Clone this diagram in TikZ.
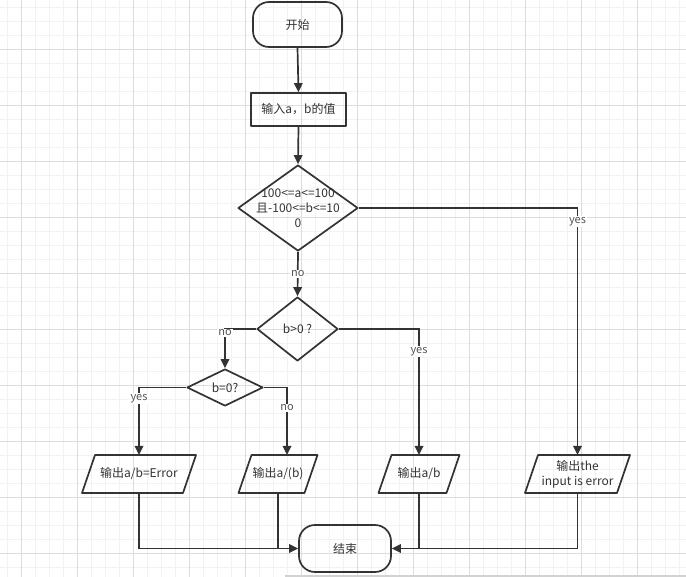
\documentclass[tikz,border=0pt]{standalone}
\usepackage{fontspec}
\setmainfont{Noto Sans CJK SC}
\usetikzlibrary{arrows.meta,shapes.geometric}
\definecolor{ink}{HTML}{333333}
\definecolor{txt}{HTML}{333333}
\definecolor{lbltxt}{HTML}{555555}
\definecolor{gridminor}{HTML}{F2F2F2}
\definecolor{gridmajor}{HTML}{DDDDDD}
\newcommand\drawpara[1]{\draw[shapeline] ([xshift=6.5pt]#1.north west) -- ([xshift=6.5pt]#1.north east) -- ([xshift=-6.5pt]#1.south east) -- ([xshift=-6.5pt]#1.south west) -- cycle;}
\begin{document}
\begin{tikzpicture}[x=1pt,y=-1pt,
  shapeline/.style={draw=ink,line width=1.7pt,line join=round},
  txtfont/.style={font=\fontsize{12}{15}\selectfont,text=txt},
  terminal/.style={shapeline,rectangle,rounded corners=16pt,inner sep=0pt,txtfont},
  procbox/.style={shapeline,rectangle,inner sep=0pt,txtfont},
  decision/.style={shapeline,diamond,inner sep=0pt},
  iobox/.style={rectangle,inner sep=0pt,outer sep=0pt,txtfont,align=center},
  conn/.style={draw=ink,line width=1.7pt},
  arrow/.style={conn,-{Triangle[length=9pt,width=8.5pt]}},
  lbl/.style={fill=white,inner sep=1pt,font=\fontsize{11}{13}\selectfont,text=lbltxt}
]
\useasboundingbox (0,0) rectangle (686,577);
\fill[white] (0,0) rectangle (686,577);
% grid
\foreach \g in {7,21,...,686} {\draw[gridminor,line width=0.6pt] (\g,0) -- (\g,577);}
\foreach \g in {7,21,...,577} {\draw[gridminor,line width=0.6pt] (0,\g) -- (686,\g);}
\foreach \g in {21,77,...,686} {\draw[gridmajor,line width=0.7pt] (\g,0) -- (\g,577);}
\foreach \g in {49,105,...,577} {\draw[gridmajor,line width=0.7pt] (0,\g) -- (686,\g);}
\fill[gray!35] (285,574.5) rectangle (686,577);

% nodes
\node[terminal,minimum width=89pt,minimum height=45pt] (start) at (297.5,24.5) {开始};
\node[procbox,minimum width=95pt,minimum height=33pt] (input) at (298.5,109.5) {输入a，b的值};
\node[decision,minimum width=120pt,minimum height=86pt,
  label={[align=center,txtfont]center:100<=a<=100\\且-100<=b<=10\\0}] (d1) at (298,208) {};
\node[decision,minimum width=81pt,minimum height=64pt,
  label={[txtfont]center:b>0 ?}] (d2) at (297.5,329) {};
\node[decision,minimum width=76pt,minimum height=37pt,
  label={[txtfont]center:b=0?}] (d3) at (225,387.5) {};

\node[iobox,minimum width=101pt,minimum height=38pt] (p1) at (139,474) {输出a/b=Error};
\node[iobox,minimum width=66pt,minimum height=38pt] (p2) at (278,474) {输出a/(b)};
\node[iobox,minimum width=68pt,minimum height=38pt] (p3) at (419,474) {输出a/b};
\node[iobox,minimum width=92pt,minimum height=38pt] (p4) at (577.5,474) {输出the\\input is error};
\drawpara{p1}
\drawpara{p2}
\drawpara{p3}
\drawpara{p4}

\node[terminal,minimum width=92pt,minimum height=47pt] (end) at (345,548.5) {结束};

% connectors
\draw[arrow] (start.south) -- (input.north);
\draw[arrow] (input.south) -- (d1.north);
\draw[arrow] (d1.east) -| node[lbl,pos=0.528] (lyes1) {yes} (p4.north);
\draw[arrow] (d1.south) -- node[lbl,pos=0.5] (lno1) {no} (d2.north);
\draw[arrow] (d2.west) -| node[lbl,pos=0.55] (lno2) {no} (d3.north);
\draw[arrow] (d2.east) -| node[lbl,pos=0.59] (lyes2) {yes} (p3.north);
\draw[arrow] (d3.west) -| node[lbl,pos=0.58] (lyes3) {yes} (p1.north);
\draw[arrow] (d3.east) -| node[lbl,pos=0.65] (lno3) {no} ([xshift=9pt]p2.north);

\draw[arrow] (p1.south) |- (end.west);
\draw[conn] (p2.south) -- (p2.south |- end.west);
\draw[arrow] (p4.south) |- (end.east);
\draw[conn] (p3.south) -- (p3.south |- end.east);
\end{tikzpicture}
\end{document}
